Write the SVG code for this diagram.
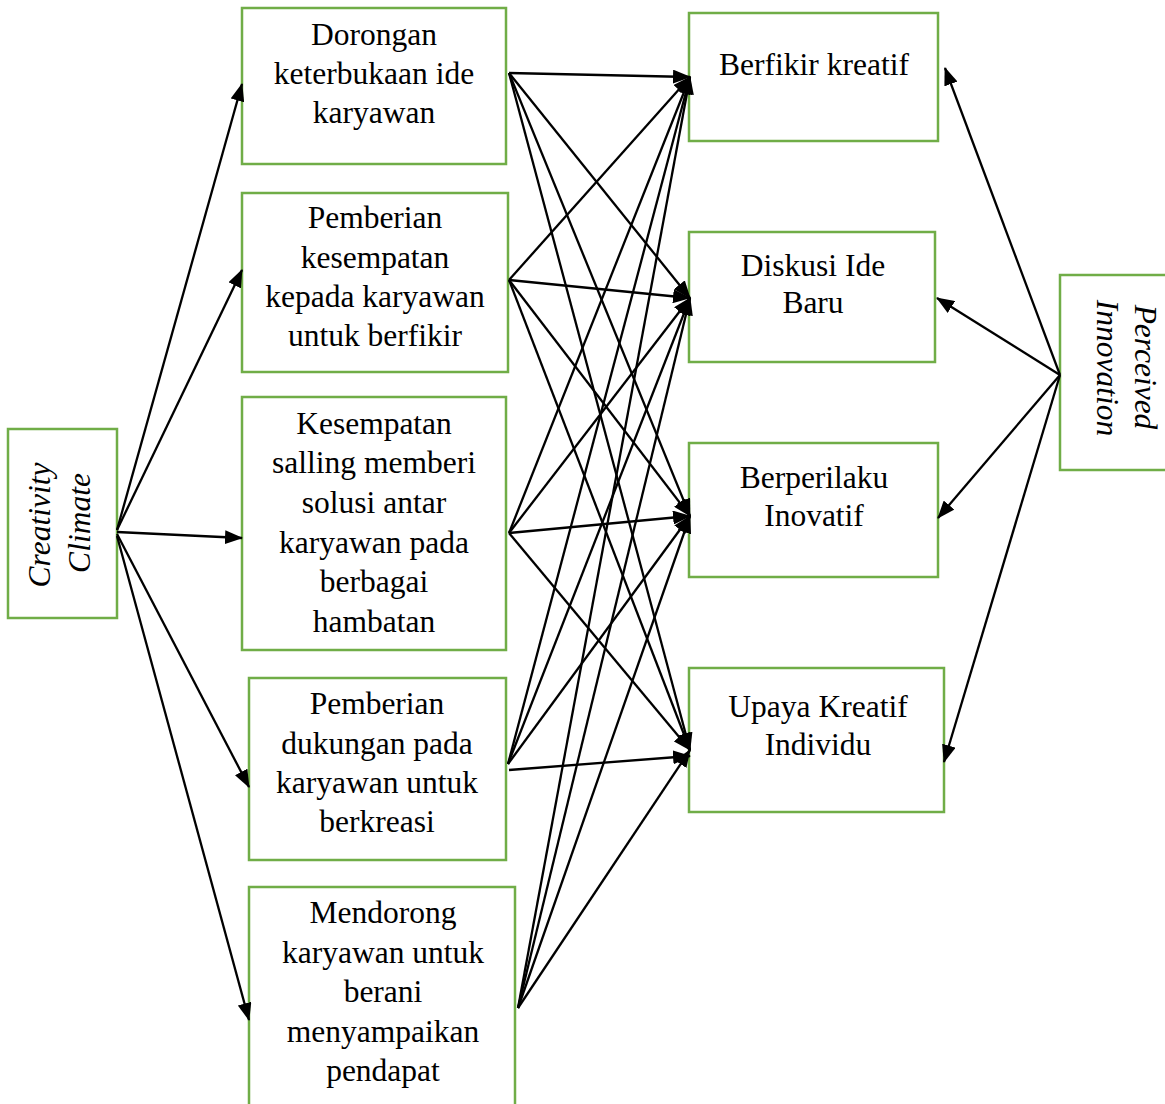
<svg xmlns="http://www.w3.org/2000/svg" width="1165" height="1104" viewBox="0 0 1165 1104">
<defs>
<style>
.box{fill:#fff;stroke:#70AD47;stroke-width:2.5}
.t{font-family:"Liberation Serif","Times New Roman",serif;font-size:31.5px;fill:#000;text-anchor:middle}
.it{font-style:italic}
.c line{stroke:#000;stroke-width:2.3;marker-end:url(#ah)}
</style>
<marker id="ah" markerUnits="userSpaceOnUse" markerWidth="18" markerHeight="14" refX="17" refY="7" orient="auto">
<path d="M0,0 L18,7 L0,14 z" fill="#000"/>
</marker>
</defs>
<rect width="1165" height="1104" fill="#fff"/>
<g id="n-cc"><rect class="box" x="8" y="429" width="109" height="189"/>
<text class="t it" transform="translate(50,525) rotate(-90)">Creativity</text>
<text class="t it" transform="translate(90,523) rotate(-90)">Climate</text></g>
<g id="n-pi"><rect class="box" x="1060" y="275" width="110" height="195"/>
<text class="t it" transform="translate(1135,367) rotate(90)">Perceived</text>
<text class="t it" transform="translate(1097,368) rotate(90)">Innovation</text></g>
<g id="n-d1"><rect class="box" x="242" y="8" width="264" height="156"/>
<text class="t" x="374" y="45">Dorongan</text><text class="t" x="374" y="84">keterbukaan ide</text><text class="t" x="374" y="123">karyawan</text></g>
<g id="n-d2"><rect class="box" x="242" y="193" width="266" height="179"/>
<text class="t" x="375" y="228">Pemberian</text><text class="t" x="375" y="268">kesempatan</text><text class="t" x="375" y="307">kepada karyawan</text><text class="t" x="375" y="346">untuk berfikir</text></g>
<g id="n-d3"><rect class="box" x="242" y="397" width="264" height="253"/>
<text class="t" x="374" y="434">Kesempatan</text><text class="t" x="374" y="473">salling memberi</text><text class="t" x="374" y="513">solusi antar</text><text class="t" x="374" y="553">karyawan pada</text><text class="t" x="374" y="592">berbagai</text><text class="t" x="374" y="632">hambatan</text></g>
<g id="n-d4"><rect class="box" x="249" y="678" width="257" height="182"/>
<text class="t" x="377" y="714">Pemberian</text><text class="t" x="377" y="754">dukungan pada</text><text class="t" x="377" y="793">karyawan untuk</text><text class="t" x="377" y="832">berkreasi</text></g>
<g id="n-d5"><rect class="box" x="249" y="887" width="266" height="222"/>
<text class="t" x="383" y="923">Mendorong</text><text class="t" x="383" y="963">karyawan untuk</text><text class="t" x="383" y="1002">berani</text><text class="t" x="383" y="1042">menyampaikan</text><text class="t" x="383" y="1081">pendapat</text></g>
<g id="n-i1"><rect class="box" x="689" y="13" width="249" height="128"/>
<text class="t" x="814" y="75">Berfikir kreatif</text></g>
<g id="n-i2"><rect class="box" x="689" y="232" width="246" height="130"/>
<text class="t" x="813" y="276">Diskusi Ide</text><text class="t" x="813" y="313">Baru</text></g>
<g id="n-i3"><rect class="box" x="689" y="443" width="249" height="134"/>
<text class="t" x="814" y="488">Berperilaku</text><text class="t" x="814" y="526">Inovatif</text></g>
<g id="n-i4"><rect class="box" x="689" y="668" width="255" height="144"/>
<text class="t" x="818" y="717">Upaya Kreatif</text><text class="t" x="818" y="755">Individu</text></g>
<g id="connectors" class="c">
<line x1="117" y1="530" x2="242" y2="84"/>
<line x1="117" y1="530" x2="242" y2="270"/>
<line x1="117" y1="532" x2="242" y2="538"/>
<line x1="117" y1="534" x2="249" y2="787"/>
<line x1="117" y1="536" x2="249" y2="1020"/>
<line x1="509" y1="73" x2="690" y2="77"/>
<line x1="509" y1="73" x2="690" y2="298"/>
<line x1="509" y1="73" x2="690" y2="516"/>
<line x1="509" y1="73" x2="690" y2="750"/>
<line x1="509" y1="280" x2="690" y2="77"/>
<line x1="509" y1="280" x2="690" y2="298"/>
<line x1="509" y1="280" x2="690" y2="516"/>
<line x1="509" y1="280" x2="690" y2="750"/>
<line x1="509" y1="533" x2="690" y2="77"/>
<line x1="509" y1="533" x2="690" y2="298"/>
<line x1="509" y1="533" x2="690" y2="516"/>
<line x1="509" y1="533" x2="690" y2="750"/>
<line x1="508" y1="764" x2="690" y2="77"/>
<line x1="508" y1="764" x2="690" y2="298"/>
<line x1="508" y1="764" x2="690" y2="516"/>
<line x1="509" y1="770" x2="690" y2="756"/>
<line x1="518" y1="1008" x2="690" y2="77"/>
<line x1="518" y1="1008" x2="690" y2="298"/>
<line x1="518" y1="1008" x2="690" y2="516"/>
<line x1="518" y1="1008" x2="690" y2="750"/>
<line x1="1060" y1="375" x2="945" y2="68"/>
<line x1="1060" y1="375" x2="937" y2="298"/>
<line x1="1060" y1="375" x2="938" y2="518"/>
<line x1="1060" y1="375" x2="944" y2="762"/>
</g>
</svg>
